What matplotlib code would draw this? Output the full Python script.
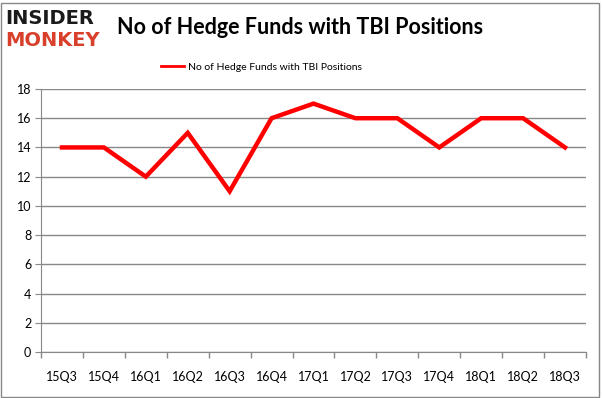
import numpy as np
import matplotlib.pyplot as plt
from matplotlib.patches import Rectangle
from matplotlib.lines import Line2D

quarters = ["15Q3", "15Q4", "16Q1", "16Q2", "16Q3", "16Q4", "17Q1",
            "17Q2", "17Q3", "17Q4", "18Q1", "18Q2", "18Q3"]
funds = [14, 14, 12, 15, 11, 16, 17, 16, 16, 14, 16, 16, 14]
y_ticks = [0, 2, 4, 6, 8, 10, 12, 14, 16, 18]
series_name = "No of Hedge Funds with TBI Positions"

W, H = 603, 398
fig = plt.figure(figsize=(W / 100, H / 100), dpi=100)

# plot area in pixels: left 41, right 586, top 89, bottom 352
ax = fig.add_axes([41 / W, 1 - 352 / H, (586 - 41) / W, (352 - 89) / H])

x = np.arange(len(quarters))
ax.plot(x, funds, color="#ff0000", lw=3.2, solid_joinstyle="miter")

ax.set_xlim(-0.5, len(quarters) - 0.5)
ax.set_ylim(0, 18)
ax.set_yticks(y_ticks)
ax.set_xticks(x)
ax.set_xticklabels(quarters, family="Lato")
ax.set_yticklabels([str(v) for v in y_ticks], family="Lato")
ax.set_xticks(np.arange(len(quarters) + 1) - 0.5, minor=True)
ax.tick_params(axis="x", which="major", length=0, pad=14, labelsize=9)
ax.tick_params(axis="x", which="minor", length=4, color="#888888", width=1)
ax.tick_params(axis="y", length=4, color="#888888", labelsize=9, pad=3)
ax.grid(axis="y", color="#888888", lw=1)
ax.set_axisbelow(True)
for s in ["top", "right"]:
    ax.spines[s].set_visible(False)
for s in ["left", "bottom"]:
    ax.spines[s].set_color("#888888")

handle = Line2D([], [], color="#ff0000", lw=2)
ax.legend([handle], [series_name], loc="lower center",
          bbox_to_anchor=(0.404, 1.03), frameon=False,
          prop={"family": "Lato", "size": 7.5},
          handlelength=2.2, handletextpad=0.4)

fig.text(117 / W, 1 - 27 / H, series_name,
         fontsize=15.5, fontweight="bold", family="Lato", va="center")
fig.text(5 / W, 1 - 18 / H, "INSIDER", fontsize=14, fontweight="heavy",
         family="DejaVu Sans", color="#1a1a1a", va="center")
fig.text(5 / W, 1 - 40 / H, "MONKEY", fontsize=14, fontweight="heavy",
         family="DejaVu Sans", color="#d9402b", va="center")

fig.patches.append(Rectangle((1 / W, 1 / H), (W - 5) / W, (H - 4) / H,
                             transform=fig.transFigure, fill=False,
                             edgecolor="#888888", lw=1))

fig.savefig("out.png", dpi=100)
